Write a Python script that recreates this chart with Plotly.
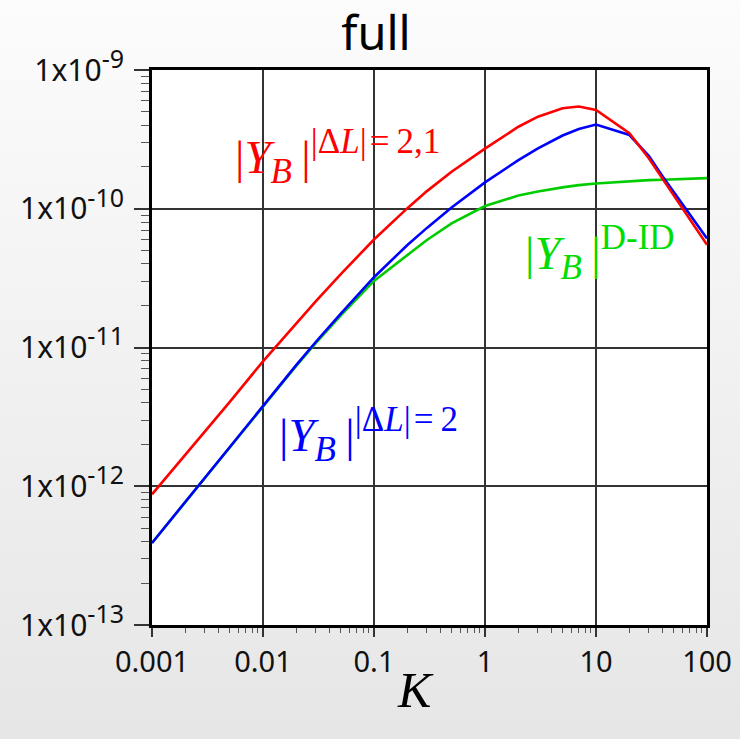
import plotly.graph_objects as go
import urllib.parse

# ---- data ----
K = [0.001, 0.002, 0.003, 0.005, 0.01, 0.02, 0.03, 0.05, 0.1, 0.2, 0.3, 0.5,
     1, 2, 3, 5, 7, 10, 20, 30, 40, 50, 70, 100]

Y_dL21 = [8.75e-13, 1.69e-12, 2.48e-12, 4.04e-12, 7.95e-12, 1.50e-11, 2.16e-11, 3.37e-11,
          6.0e-11, 1.01e-10, 1.34e-10, 1.85e-10, 2.71e-10, 3.9e-10, 4.61e-10, 5.3e-10,
          5.45e-10, 5.15e-10, 3.5e-10, 2.3e-10, 1.64e-10, 1.26e-10, 8.4e-11, 5.5e-11]

Y_dL2 = [3.9e-13, 7.73e-13, 1.15e-12, 1.91e-12, 3.8e-12, 7.5e-12, 1.10e-11, 1.75e-11,
         3.21e-11, 5.48e-11, 7.28e-11, 1.02e-10, 1.55e-10, 2.24e-10, 2.72e-10, 3.37e-10,
         3.76e-10, 4.04e-10, 3.4e-10, 2.4e-10, 1.7e-10, 1.33e-10, 9.1e-11, 6.1e-11]

Y_DID = [3.9e-13, 7.73e-13, 1.15e-12, 1.91e-12, 3.8e-12, 7.4e-12, 1.08e-11, 1.70e-11,
         3.02e-11, 4.68e-11, 5.96e-11, 7.85e-11, 1.047e-10, 1.245e-10, 1.33e-10, 1.426e-10,
         1.48e-10, 1.52e-10, 1.585e-10, 1.607e-10, 1.62e-10, 1.633e-10, 1.65e-10, 1.663e-10]

x_tickvals = [0.001, 0.01, 0.1, 1, 10, 100]
x_ticktext = ["0.001", "0.01", "0.1", "1", "10", "100"]
y_tickvals = [1e-13, 1e-12, 1e-11, 1e-10, 1e-9]
y_exponents = ["-13", "-12", "-11", "-10", "-9"]

RED = "#ff0000"
BLUE = "#0000ff"
GREEN = "#00cc00"
GREEN_TXT = "#00dd00"

W, H = 740, 739
ML, MR, MT, MB = 152, 33, 70, 114
PW, PH = W - ML - MR, H - MT - MB

y_ticktext = ["1x10<sup><span style='font-size:25px'>%s</span></sup>" % e for e in y_exponents]

fig = go.Figure()
fig.add_trace(go.Scatter(x=K, y=Y_DID, mode="lines", line=dict(color=GREEN, width=2.6), showlegend=False))
fig.add_trace(go.Scatter(x=K, y=Y_dL2, mode="lines", line=dict(color=BLUE, width=2.6), showlegend=False))
fig.add_trace(go.Scatter(x=K, y=Y_dL21, mode="lines", line=dict(color=RED, width=2.6), showlegend=False))

# background gradient
svg = ('<svg xmlns="http://www.w3.org/2000/svg" width="740" height="739" preserveAspectRatio="none">'
       '<defs><linearGradient id="g" x1="0" y1="0" x2="0" y2="1">'
       '<stop offset="0" stop-color="#fcfcfc"/><stop offset="1" stop-color="#e6e6e6"/>'
       '</linearGradient></defs><rect width="740" height="739" fill="url(#g)"/></svg>')
src = "data:image/svg+xml;charset=utf-8," + urllib.parse.quote(svg)
fig.add_layout_image(dict(source=src, xref="paper", yref="paper",
                          x=-ML / PW, y=1 + MT / PH, sizex=W / PW, sizey=H / PH,
                          xanchor="left", yanchor="top", sizing="stretch", layer="below"))
fig.add_shape(type="rect", xref="paper", yref="paper", x0=0, x1=1, y0=0, y1=1,
              fillcolor="white", line=dict(width=0), layer="below")

serif = "Liberation Serif, Times New Roman, serif"
ann_size = 47
small = "<span style='font-size:35px'>%s</span>"
hair = "\u200a"
thin = "\u2009"
base = "|<i>Y</i><sub>" + (small % "<i>B</i>") + "</sub>" + thin + "|"
fig.add_annotation(xref="paper", yref="paper", x=(233 - ML) / PW, y=(MT + PH - 156) / PH,
                   xanchor="left", yanchor="middle", showarrow=False,
                   text=base + "<sup>" + (small % ("|Δ<i>L</i>|" + hair + "=" + thin + "2,1")) + "</sup>",
                   font=dict(family=serif, size=ann_size, color=RED))
fig.add_annotation(xref="paper", yref="paper", x=(277 - ML) / PW, y=(MT + PH - 434) / PH,
                   xanchor="left", yanchor="middle", showarrow=False,
                   text=base + "<sup>" + (small % ("|Δ<i>L</i>|" + hair + "=" + thin + "2")) + "</sup>",
                   font=dict(family=serif, size=ann_size, color=BLUE))
fig.add_annotation(xref="paper", yref="paper", x=(523 - ML) / PW, y=(MT + PH - 253) / PH,
                   xanchor="left", yanchor="middle", showarrow=False,
                   text=base + "<sup>" + (small % "D-ID") + "</sup>",
                   font=dict(family=serif, size=ann_size, color=GREEN_TXT))
# x-axis title
fig.add_annotation(xref="paper", yref="paper", x=(415 - ML) / PW, y=(MT + PH - 690) / PH,
                   xanchor="center", yanchor="middle", showarrow=False,
                   text="<i>K</i>", font=dict(family=serif, size=50, color="black"))

xtickfont = dict(family="Noto Sans, Open Sans, sans-serif", size=29, color="#111111")
ytickfont = dict(family="Noto Sans, Open Sans, sans-serif", size=30, color="#111111")

fig.update_xaxes(type="log", range=[-3, 2], tickvals=x_tickvals, ticktext=x_ticktext,
                 showgrid=True, gridcolor="#333333", gridwidth=1.5,
                 showline=True, linecolor="black", linewidth=3, mirror=True,
                 ticks="outside", ticklen=9, tickwidth=1.5, tickcolor="#333333",
                 minor=dict(ticks="outside", ticklen=5, tickwidth=1.2, tickcolor="#555555",
                            dtick="D1", showgrid=False),
                 tickfont=xtickfont, zeroline=False, automargin=False)
fig.update_yaxes(type="log", range=[-13, -9], tickvals=y_tickvals, ticktext=y_ticktext,
                 showgrid=True, gridcolor="#333333", gridwidth=1.5,
                 showline=True, linecolor="black", linewidth=3, mirror=True,
                 ticks="outside", ticklen=15, tickwidth=1.5, tickcolor="#333333",
                 minor=dict(ticks="outside", ticklen=8, tickwidth=1.2, tickcolor="#555555",
                            dtick="D1", showgrid=False),
                 ticklabelstandoff=4,
                 tickfont=ytickfont, zeroline=False, automargin=False)

fig.update_layout(
    width=W, height=H, autosize=False,
    margin=dict(l=ML, r=MR, t=MT, b=MB, pad=0, autoexpand=False),
    paper_bgcolor="#eeeeee", plot_bgcolor="white",
    title=dict(text="full", x=376 / W, xref="container", xanchor="center",
               y=1 - 34 / H, yref="container", yanchor="middle",
               font=dict(family="Noto Sans, sans-serif", size=47, color="black")),
    showlegend=False,
)

fig.write_html("out.html")
